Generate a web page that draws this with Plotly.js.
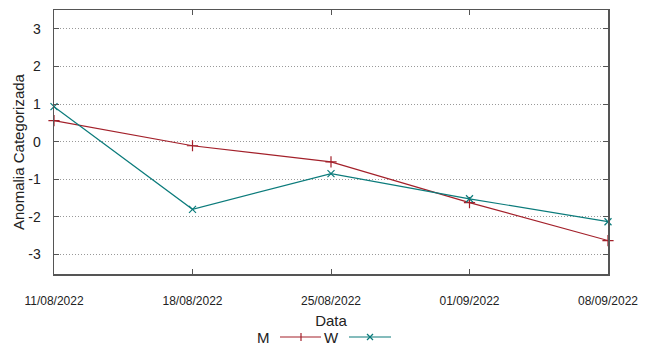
<!DOCTYPE html>
<html>
<head>
<meta charset="utf-8">
<script src="https://cdn.plot.ly/plotly-3.0.1.min.js"></script>
<style>html,body{margin:0;padding:0;background:#fff;}#chart{width:649px;height:345px;}</style>
</head>
<body>
<div id="chart"></div>
<script>
const dates = ["2022-08-11", "2022-08-18", "2022-08-25", "2022-09-01", "2022-09-08"];
const tickLabels = ["11/08/2022", "18/08/2022", "25/08/2022", "01/09/2022", "08/09/2022"];
const seriesM = [0.56, -0.11, -0.54, -1.62, -2.63];
const seriesW = [0.93, -1.80, -0.85, -1.52, -2.13];
const yTicks = [-3, -2, -1, 0, 1, 2, 3];
const yTickLabels = ["-3", "-2", "-1", "0", "1", "2", "3"];

const colM = "#a3202a";
const colW = "#0b7b7b";

const W = 649, H = 345;
const mL = 54, mR = 41, mT = 10, mB = 71;
const pw = W - mL - mR, ph = H - mT - mB;
function px(x) { return (x - mL) / pw; }
function py(y) { return (H - mB - y) / ph; }

const traces = [
  {x: dates, y: seriesM, name: "M", type: "scatter", mode: "lines+markers", cliponaxis: false,
   line: {color: colM, width: 1.2},
   marker: {symbol: "cross-thin", size: 8, color: colM, line: {color: colM, width: 1.2}}},
  {x: dates, y: seriesW, name: "W", type: "scatter", mode: "lines+markers", cliponaxis: false,
   line: {color: colW, width: 1.2},
   marker: {symbol: "x-thin", size: 7, color: colW, line: {color: colW, width: 1.2}}}
];

// manual gnuplot-style legend: text then sample line with marker
const legY = 337;
const shapes = [
  {type: "line", xref: "paper", yref: "paper", x0: px(280), x1: px(321), y0: py(legY), y1: py(legY), line: {color: colM, width: 1.2}},
  {type: "line", xref: "paper", yref: "paper", x0: px(301), x1: px(301), y0: py(legY - 4), y1: py(legY + 4), line: {color: colM, width: 1.2}},
  {type: "line", xref: "paper", yref: "paper", x0: px(349), x1: px(391), y0: py(legY), y1: py(legY), line: {color: colW, width: 1.2}},
  {type: "line", xref: "paper", yref: "paper", x0: px(367), x1: px(373), y0: py(legY - 3), y1: py(legY + 3), line: {color: colW, width: 1.2}},
  {type: "line", xref: "paper", yref: "paper", x0: px(367), x1: px(373), y0: py(legY + 3), y1: py(legY - 3), line: {color: colW, width: 1.2}}
];
const annotations = [
  {text: "M", xref: "paper", yref: "paper", x: px(263), y: py(legY), xanchor: "center", yanchor: "middle", showarrow: false, font: {size: 15, color: "#222"}},
  {text: "W", xref: "paper", yref: "paper", x: px(331), y: py(legY), xanchor: "center", yanchor: "middle", showarrow: false, font: {size: 15, color: "#222"}},
  {text: "Anomalia Categorizada", xref: "paper", yref: "paper", x: px(18), y: py(152), xanchor: "center", yanchor: "middle", textangle: -90, showarrow: false, font: {size: 15, color: "#222"}}
];

const layout = {
  width: W, height: H,
  margin: {l: mL, r: mR, t: mT, b: mB, pad: 0},
  paper_bgcolor: "#fff", plot_bgcolor: "#fff",
  font: {family: "Liberation Sans, Arial, sans-serif", color: "#222"},
  showlegend: false,
  xaxis: {
    type: "date",
    range: [dates[0], dates[dates.length - 1]],
    tickvals: dates, ticktext: tickLabels,
    ticks: "inside", ticklen: 5, tickcolor: "#555",
    showgrid: false, zeroline: false,
    showline: true, linecolor: "#555", linewidth: 1.5, mirror: "ticks",
    tickfont: {size: 12},
    ticklabelstandoff: 15,
    title: {text: "Data", font: {size: 15}, standoff: 8},
    automargin: false
  },
  yaxis: {
    range: [-3.52, 3.5],
    tickvals: yTicks, ticktext: yTickLabels,
    ticks: "inside", ticklen: 5, tickcolor: "#555",
    showgrid: true, gridcolor: "#999", griddash: "1px,2px", gridwidth: 1,
    zeroline: false,
    showline: true, linecolor: "#555", linewidth: 1.5, mirror: "ticks",
    tickfont: {size: 14},
    ticklabelstandoff: 9,
    automargin: false
  },
  shapes: shapes,
  annotations: annotations
};

Plotly.newPlot("chart", traces, layout, {staticPlot: true});
</script>
</body>
</html>
